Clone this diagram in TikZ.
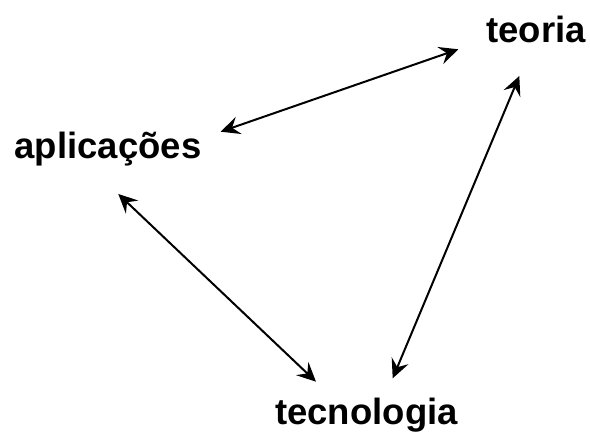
\documentclass[tikz,border=0pt]{standalone}
\usepackage{fontspec}
\setmainfont{Liberation Sans}
\usetikzlibrary{arrows.meta}
\begin{document}
\begin{tikzpicture}[x=1pt,y=-1pt,
  lbl/.style={anchor=base,inner sep=0pt,font=\fontsize{36.5}{40}\selectfont\bfseries},
  dbl/.style={line width=2pt,{Stealth[length=19pt,width=18pt,inset=7pt]}-{Stealth[length=19pt,width=18pt,inset=7pt]}}]
\useasboundingbox (0,0) rectangle (590,433);
\node[lbl] (teo) at (536,43) {teoria};
\node[lbl] (apl) at (108,159) {aplicações};
\node[lbl] (tec) at (366.5,424) {tecnologia};
\coordinate (at) at (220.7,131.7);
\coordinate (ta) at (458.3,49.3);
\coordinate (ac) at (118.3,194);
\coordinate (ca) at (316,381.7);
\coordinate (tc) at (519.3,76);
\coordinate (ct) at (392.7,378.3);
\draw[dbl] (at) -- (ta);
\draw[dbl] (ac) -- (ca);
\draw[dbl] (tc) -- (ct);
\end{tikzpicture}
\end{document}
